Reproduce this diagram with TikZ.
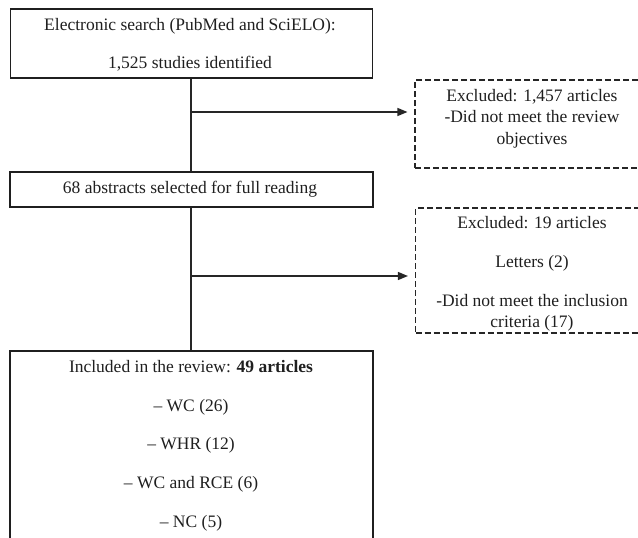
\documentclass[tikz,border=0pt]{standalone}
\usepackage{fontspec}
\setmainfont{Liberation Serif}
\usetikzlibrary{arrows.meta}
\begin{document}
\begin{tikzpicture}[x=1pt,y=-1pt,
  solidbox/.style={draw=black!88, line width=1.8pt, inner sep=0pt},
  dashbox/.style={draw=black!85, line width=1.1pt, dash pattern=on 6pt off 3pt, inner sep=0pt},
  txt/.style={align=center, inner sep=0pt, font=\fontsize{17.5}{21.5}\selectfont, text=black!88},
  conn/.style={draw=black!85, line width=1.3pt},
  arr/.style={conn, -{Triangle[length=10pt,width=8pt]}, shorten >=7pt}]
\useasboundingbox (0,0) rectangle (638,538);
\clip (0,0) rectangle (638,538);
% boxes
\node[solidbox, minimum width=362pt, minimum height=69pt] (search) at (191.5,43.5) {};
\node[txt] (searcht) at (190,45) {Electronic search (PubMed and SciELO):\\[16pt]1,525 studies identified};
\node[solidbox, minimum width=363pt, minimum height=35pt] (abstracts) at (191.5,189.5) {};
\node[txt] (abstractst) at (190,189) {68 abstracts selected for full reading};
\node[solidbox, minimum width=363pt, minimum height=240pt] (included) at (191.5,471) {};
\node[txt, anchor=north] (includedt) at (191,360) {Included in the review: \textbf{49 articles}\\[17.3pt]
  -- WC (26)\\[17.3pt]-- WHR (12)\\[17.3pt]-- WC and RCE (6)\\[17.3pt]-- NC (5)};
\node[dashbox, minimum width=234pt, minimum height=88pt] (excl1) at (532,124) {};
\node[txt] (excl1t) at (532,118.5) {Excluded: 1,457 articles\\-Did not meet the review\\objectives};
\node[dashbox, minimum width=234pt, minimum height=125pt] (excl2) at (532.5,270.5) {};
\node[txt] (excl2t) at (532,274) {Excluded: 19 articles\\[17.5pt]Letters (2)\\[17.5pt]-Did not meet the inclusion\\criteria (17)};
% connectors
\draw[conn] (search.south -| 191,0) -- (abstracts.north -| 191,0);
\draw[conn] (abstracts.south -| 191,0) -- (included.north -| 191,0);
\coordinate (j1) at (191,112);
\coordinate (j2) at (191,276);
\draw[arr] (j1) -- (j1 -| excl1.west);
\draw[arr] (j2) -- (j2 -| excl2.west);
\end{tikzpicture}
\end{document}
